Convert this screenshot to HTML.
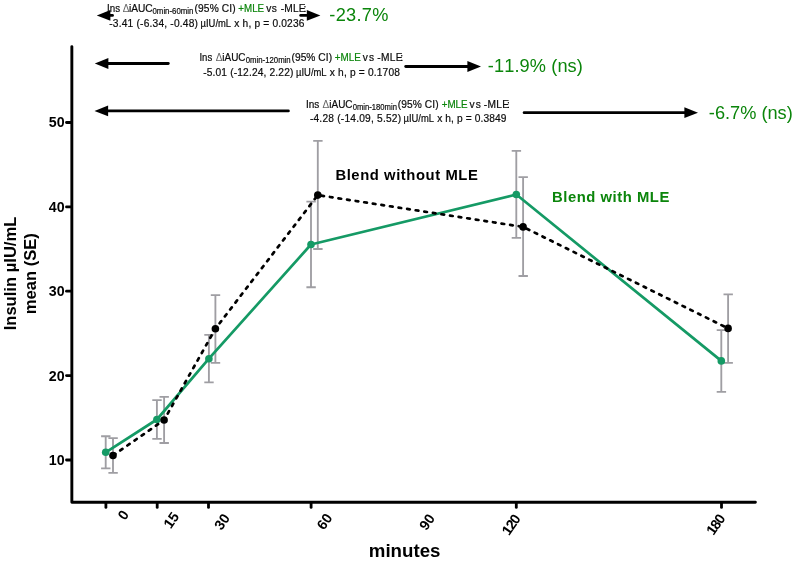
<!DOCTYPE html>
<html lang="en"><head><meta charset="utf-8"><title>Insulin response</title>
<style>
html,body{margin:0;padding:0;background:#fff;}
body{width:797px;height:562px;overflow:hidden;}
svg{display:block;}
text{font-family:"Liberation Sans", sans-serif;font-kerning:none;}
.b{font-weight:bold;fill:#000;}
.s{font-size:10.2px;fill:#0c0c0c;stroke:#0c0c0c;stroke-width:0.2px;}
.u{font-size:8.6px;fill:#0c0c0c;stroke:#0c0c0c;stroke-width:0.2px;}
.d{font-size:10px;fill:#666;}
.g{fill:#0b850b;stroke:#0b850b;}
.big{font-size:18.2px;fill:#0b850b;}
</style></head>
<body>
<svg width="797" height="562" viewBox="0 0 797 562">
<rect width="797" height="562" fill="#fff"/>
<g id="arrows">
<path d="M112.5,15.4 H109.4" stroke="#000" stroke-width="2.8" stroke-linecap="round" fill="none"/><path d="M96.8,15.4 L110.4,10.0 V20.8 Z" fill="#000"/>
<path d="M300.7,15.4 H307.8" stroke="#000" stroke-width="2.8" stroke-linecap="round" fill="none"/><path d="M320.4,15.4 L306.8,10.0 V20.8 Z" fill="#000"/>
<path d="M168.3,63.5 H107.4" stroke="#000" stroke-width="2.8" stroke-linecap="round" fill="none"/><path d="M94.8,63.5 L108.4,58.1 V68.9 Z" fill="#000"/>
<path d="M405.7,66.5 H468.4" stroke="#000" stroke-width="2.8" stroke-linecap="round" fill="none"/><path d="M481.0,66.5 L467.4,61.1 V71.9 Z" fill="#000"/>
<path d="M288.4,110.9 H107.1" stroke="#000" stroke-width="2.8" stroke-linecap="round" fill="none"/><path d="M94.5,110.9 L108.1,105.5 V116.3 Z" fill="#000"/>
<path d="M524.1,112.7 H685.4" stroke="#000" stroke-width="2.8" stroke-linecap="round" fill="none"/><path d="M698.0,112.7 L684.4,107.3 V118.1 Z" fill="#000"/>
</g>
<g><text class="s" x="107.02" y="12.0" textLength="13.02" lengthAdjust="spacingAndGlyphs">Ins</text><text class="d" x="122.75" y="12.0">Δ</text><text class="s" x="128.94" y="12.0" textLength="23.74" lengthAdjust="spacingAndGlyphs">iAUC</text><text class="u" x="152.53" y="14.4" textLength="40.85" lengthAdjust="spacingAndGlyphs">0min-60min</text><text class="s" x="194.59" y="12.0" style="letter-spacing:0.109px">(95% CI)</text><text class="s g" x="238.36" y="12.0" textLength="25.75" lengthAdjust="spacingAndGlyphs">+MLE</text><text class="s" x="266.30" y="12.0" style="letter-spacing:0.457px">vs</text><text class="s" x="280.69" y="12.0" style="letter-spacing:0.189px">-MLE</text><text class="s" x="303.38" y="12.0">:</text>
<text class="s" x="109.29" y="26.8" style="letter-spacing:0.193px">-3.41 (-6.34, -0.48)</text><text class="s" x="200.59" y="26.8" textLength="30.50" lengthAdjust="spacingAndGlyphs">µIU/mL</text><text class="s" x="234.30" y="26.8" style="letter-spacing:0.175px">x h, p = 0.0236</text></g>
<g><text class="s" x="199.44" y="60.9" textLength="12.80" lengthAdjust="spacingAndGlyphs">Ins</text><text class="d" x="215.75" y="60.9">Δ</text><text class="s" x="222.35" y="60.9" textLength="23.22" lengthAdjust="spacingAndGlyphs">iAUC</text><text class="u" x="245.73" y="63.3" textLength="44.95" lengthAdjust="spacingAndGlyphs">0min-120min</text><text class="s" x="291.49" y="60.9" style="letter-spacing:0.052px">(95% CI)</text><text class="s g" x="334.86" y="60.9" textLength="26.06" lengthAdjust="spacingAndGlyphs">+MLE</text><text class="s" x="362.80" y="60.9" style="letter-spacing:1.057px">vs</text><text class="s" x="377.19" y="60.9" style="letter-spacing:0.322px">-MLE</text><text class="s" x="400.28" y="60.9">:</text>
<text class="s" x="203.19" y="75.7" style="letter-spacing:0.157px">-5.01 (-12.24, 2.22)</text><text class="s" x="296.09" y="75.7" textLength="30.50" lengthAdjust="spacingAndGlyphs">µIU/mL</text><text class="s" x="329.80" y="75.7" style="letter-spacing:0.175px">x h, p = 0.1708</text></g>
<g><text class="s" x="305.90" y="107.8" textLength="13.35" lengthAdjust="spacingAndGlyphs">Ins</text><text class="d" x="322.45" y="107.8">Δ</text><text class="s" x="329.35" y="107.8" textLength="23.22" lengthAdjust="spacingAndGlyphs">iAUC</text><text class="u" x="352.73" y="110.2" textLength="44.24" lengthAdjust="spacingAndGlyphs">0min-180min</text><text class="s" x="397.79" y="107.8" style="letter-spacing:0.080px">(95% CI)</text><text class="s g" x="441.66" y="107.8" textLength="25.96" lengthAdjust="spacingAndGlyphs">+MLE</text><text class="s" x="469.50" y="107.8" style="letter-spacing:1.057px">vs</text><text class="s" x="483.79" y="107.8" style="letter-spacing:0.322px">-MLE</text><text class="s" x="506.88" y="107.8">:</text>
<text class="s" x="309.89" y="122.4" style="letter-spacing:0.210px">-4.28 (-14.09, 5.52)</text><text class="s" x="403.49" y="122.4" textLength="30.50" lengthAdjust="spacingAndGlyphs">µIU/mL</text><text class="s" x="437.20" y="122.4" style="letter-spacing:0.115px">x h, p = 0.3849</text></g>
<text class="big" x="329.37" y="21.0" style="letter-spacing:0.28px">-23.7%</text>
<text class="big" x="487.87" y="72.2" style="letter-spacing:0.1px">-11.9% (ns)</text>
<text class="big" x="708.87" y="118.5">-6.7% (ns)</text>
<path d="M71.85,46.6 V502.2 H755.4" stroke="#000" stroke-width="2.9" fill="none" stroke-linecap="round" stroke-linejoin="round"/>
<g id="yticks">
<path d="M66.5,460.0 H71.35" stroke="#000" stroke-width="2.8" stroke-linecap="round"/><text class="b" x="64.6" y="464.9" text-anchor="end" font-size="14.2px">10</text>
<path d="M66.5,375.6 H71.35" stroke="#000" stroke-width="2.8" stroke-linecap="round"/><text class="b" x="64.6" y="380.5" text-anchor="end" font-size="14.2px">20</text>
<path d="M66.5,291.2 H71.35" stroke="#000" stroke-width="2.8" stroke-linecap="round"/><text class="b" x="64.6" y="296.1" text-anchor="end" font-size="14.2px">30</text>
<path d="M66.5,206.9 H71.35" stroke="#000" stroke-width="2.8" stroke-linecap="round"/><text class="b" x="64.6" y="211.8" text-anchor="end" font-size="14.2px">40</text>
<path d="M66.5,122.5 H71.35" stroke="#000" stroke-width="2.8" stroke-linecap="round"/><text class="b" x="64.6" y="127.4" text-anchor="end" font-size="14.2px">50</text>
</g>
<g id="xticks">
<path d="M105.9,502.7 V507.4" stroke="#000" stroke-width="2.8" stroke-linecap="round"/>
<path d="M157.2,502.7 V507.4" stroke="#000" stroke-width="2.8" stroke-linecap="round"/>
<path d="M208.5,502.7 V507.4" stroke="#000" stroke-width="2.8" stroke-linecap="round"/>
<path d="M311.1,502.7 V507.4" stroke="#000" stroke-width="2.8" stroke-linecap="round"/>
<path d="M516.3,502.7 V507.4" stroke="#000" stroke-width="2.8" stroke-linecap="round"/>
<path d="M721.5,502.7 V507.4" stroke="#000" stroke-width="2.8" stroke-linecap="round"/>
<text class="b" font-size="14.2px" text-anchor="middle" transform="translate(123.2,514.8) rotate(-55)" y="5.08">0</text>
<text class="b" font-size="14.2px" text-anchor="middle" transform="translate(171.0,520.1) rotate(-55)" y="5.08">15</text>
<text class="b" font-size="14.2px" text-anchor="middle" transform="translate(221.8,521.7) rotate(-55)" y="5.08">30</text>
<text class="b" font-size="14.2px" text-anchor="middle" transform="translate(324.4,521.4) rotate(-55)" y="5.08">60</text>
<text class="b" font-size="14.2px" text-anchor="middle" transform="translate(426.9,521.8) rotate(-55)" y="5.08">90</text>
<text class="b" font-size="14.2px" text-anchor="middle" style="letter-spacing:-1px" transform="translate(510.7,524.8) rotate(-55)" y="5.08">120</text>
<text class="b" font-size="14.2px" text-anchor="middle" style="letter-spacing:-1px" transform="translate(715.3,524.7) rotate(-55)" y="5.08">180</text>
</g>
<text class="b" font-size="18.7px" text-anchor="middle" x="404.6" y="557.3">minutes</text>
<text class="b" font-size="16.6px" text-anchor="middle" transform="translate(15.8,273.5) rotate(-90)">Insulin µIU/mL</text>
<text class="b" font-size="16.6px" text-anchor="middle" transform="translate(36,273.7) rotate(-90)">mean (SE)</text>
<g id="errorbars">
<path d="M105.7,436.2 V468.4 M101.1,436.2 H110.5 M101.1,468.4 H110.5" stroke="#9f9ea3" stroke-width="1.85" fill="none"/>
<path d="M156.9,400.1 V438.9 M152.3,400.1 H161.7 M152.3,438.9 H161.7" stroke="#9f9ea3" stroke-width="1.85" fill="none"/>
<path d="M208.9,334.8 V382.4 M204.3,334.8 H213.7 M204.3,382.4 H213.7" stroke="#9f9ea3" stroke-width="1.85" fill="none"/>
<path d="M311.0,201.6 V287.2 M306.4,201.6 H315.8 M306.4,287.2 H315.8" stroke="#9f9ea3" stroke-width="1.85" fill="none"/>
<path d="M516.3,150.9 V237.8 M511.7,150.9 H521.1 M511.7,237.8 H521.1" stroke="#9f9ea3" stroke-width="1.85" fill="none"/>
<path d="M721.3,330.1 V391.9 M716.7,330.1 H726.1 M716.7,391.9 H726.1" stroke="#9f9ea3" stroke-width="1.85" fill="none"/>
<path d="M113.0,438.1 V472.9 M108.4,438.1 H117.8 M108.4,472.9 H117.8" stroke="#9f9ea3" stroke-width="1.85" fill="none"/>
<path d="M164.1,396.8 V443.0 M159.5,396.8 H168.9 M159.5,443.0 H168.9" stroke="#9f9ea3" stroke-width="1.85" fill="none"/>
<path d="M215.4,295.1 V362.8 M210.8,295.1 H220.2 M210.8,362.8 H220.2" stroke="#9f9ea3" stroke-width="1.85" fill="none"/>
<path d="M317.8,140.9 V249.0 M313.2,140.9 H322.6 M313.2,249.0 H322.6" stroke="#9f9ea3" stroke-width="1.85" fill="none"/>
<path d="M523.1,177.1 V276.0 M518.5,177.1 H527.9 M518.5,276.0 H527.9" stroke="#9f9ea3" stroke-width="1.85" fill="none"/>
<path d="M728.1,294.4 V362.8 M723.5,294.4 H732.9 M723.5,362.8 H732.9" stroke="#9f9ea3" stroke-width="1.85" fill="none"/>
</g>
<polyline fill="none" stroke="#159a65" stroke-width="2.7" stroke-linejoin="round" points="105.7,452.3 156.9,419.5 208.9,358.7 311.0,244.5 516.3,194.5 721.3,360.9"/>
<circle cx="105.7" cy="452.3" r="3.8" fill="#159a65"/><circle cx="156.9" cy="419.5" r="3.8" fill="#159a65"/><circle cx="208.9" cy="358.7" r="3.8" fill="#159a65"/><circle cx="311.0" cy="244.5" r="3.8" fill="#159a65"/><circle cx="516.3" cy="194.5" r="3.8" fill="#159a65"/><circle cx="721.3" cy="360.9" r="3.8" fill="#159a65"/>
<polyline fill="none" stroke="#000" stroke-width="2.7" stroke-linecap="round" stroke-dasharray="2.7,5.984" stroke-dashoffset="-0.15" points="113.0,455.5 164.1,420.0 215.4,328.7 317.8,195.1 523.1,226.9 728.1,328.4"/>
<circle cx="113.0" cy="455.5" r="3.8" fill="#000"/><circle cx="164.1" cy="420.0" r="3.8" fill="#000"/><circle cx="215.4" cy="328.7" r="3.8" fill="#000"/><circle cx="317.8" cy="195.1" r="3.8" fill="#000"/><circle cx="523.1" cy="226.9" r="3.8" fill="#000"/><circle cx="728.1" cy="328.4" r="3.8" fill="#000"/>
<text class="b" font-size="14.8px" x="335.4" y="180.2" style="letter-spacing:0.58px">Blend without MLE</text>
<text class="b" font-size="14.8px" x="552.0" y="202.2" style="fill:#0b850b;letter-spacing:0.55px">Blend with MLE</text>
</svg>
</body></html>
